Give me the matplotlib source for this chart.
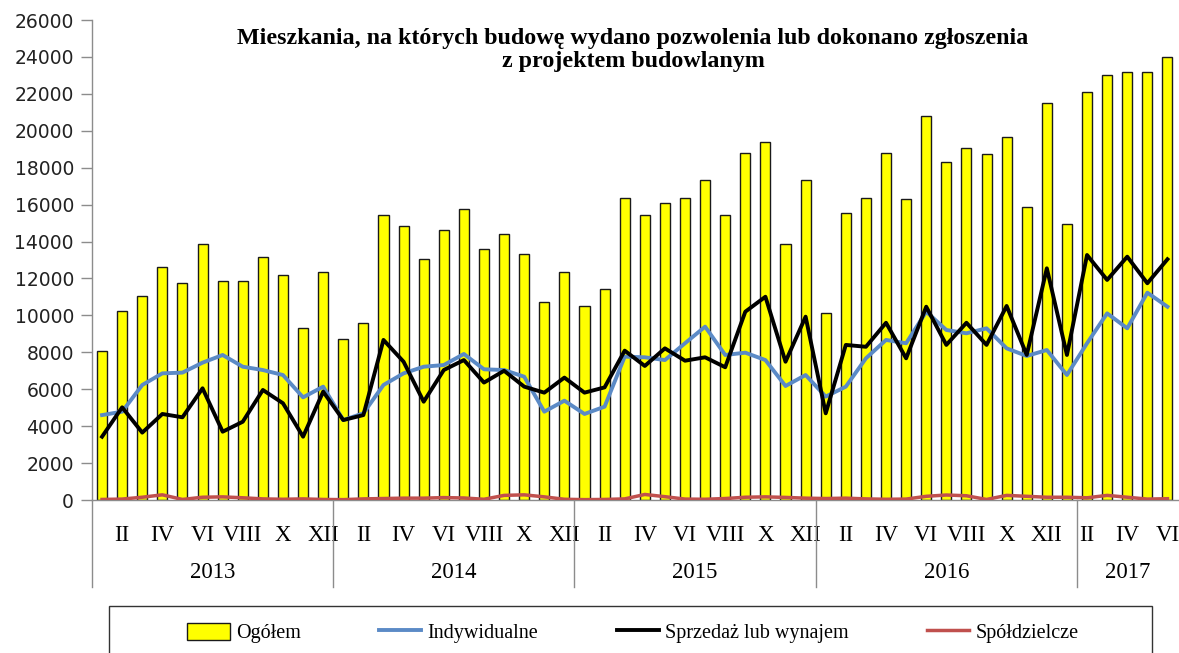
import numpy as np
import matplotlib
matplotlib.use("Agg")
import matplotlib.pyplot as plt
import matplotlib.transforms as mtransforms
from matplotlib.patches import Rectangle

# monthly data 2013 I - 2017 VI
ogolem = [8050, 10240, 11070, 12640, 11740, 13870, 11880, 11880, 13180, 12190, 9300, 12330,
          8700, 9600, 15440, 14840, 13040, 14630, 15750, 13580, 14390, 13330, 10740, 12330,
          10530, 11430, 16340, 15440, 16070, 16340, 17330, 15440, 18780, 19380, 13850, 17330,
          10110, 15530, 16340, 18780, 16290, 20820, 18330, 19090, 18720, 19680, 15890, 21520,
          14930, 22120, 23020, 23200, 23200, 24010]
indywidualne = [4600, 4785, 6230, 6860, 6900, 7440, 7855, 7220, 7040, 6770, 5560, 6140,
                4330, 4695, 6230, 6860, 7220, 7310, 7910, 7080, 7040, 6680, 4785, 5380,
                4660, 5055, 7765, 7730, 7580, 8490, 9390, 7855, 7980, 7580, 6175, 6770,
                5600, 6140, 7675, 8670, 8490, 10200, 9210, 9030, 9300, 8215, 7800, 8125,
                6770, 8490, 10110, 9300, 11230, 10470]
sprzedaz = [3430, 5020, 3650, 4660, 4480, 6050, 3700, 4240, 5960, 5240, 3430, 5870,
            4330, 4600, 8670, 7490, 5325, 7040, 7580, 6360, 7000, 6140, 5815, 6630,
            5815, 6100, 8090, 7260, 8215, 7545, 7730, 7190, 10200, 11010, 7490, 9930,
            4695, 8400, 8300, 9600, 7675, 10470, 8400, 9600, 8400, 10510, 7855, 12550,
            7855, 13270, 11920, 13180, 11740, 13040]
spoldzielcze = [30, 50, 150, 280, 30, 150, 170, 120, 60, 40, 60, 30,
                20, 60, 80, 100, 100, 130, 110, 40, 250, 280, 170, 40,
                20, 30, 60, 300, 180, 50, 40, 80, 150, 170, 140, 100,
                80, 100, 60, 40, 50, 200, 270, 230, 30, 250, 200, 150,
                150, 120, 250, 150, 50, 70]

roman = ["I", "II", "III", "IV", "V", "VI", "VII", "VIII", "IX", "X", "XI", "XII"]
month_labels = roman * 4 + roman[:6]
# year groups as drawn on the category axis (start, end, label)
year_groups = [(0, 12, "2013"), (12, 24, "2014"), (24, 36, "2015"), (36, 49, "2016"), (49, 54, "2017")]

serif = "Liberation Serif"
plt.rcParams['font.family'] = ['DejaVu Sans']

fig = plt.figure(figsize=(11.79, 6.53), dpi=100)
ax = fig.add_axes([92 / 1179, 1 - 500 / 653, 1085.5 / 1179, 480 / 653])

x = np.arange(len(ogolem)) + 0.5
bars = ax.bar(x, ogolem, width=0.5, color='#FFFF00', edgecolor='#1a1a1a', linewidth=1, zorder=2)
l1, = ax.plot(x, indywidualne, color='#5B8AC6', lw=2.8, zorder=3)
l2, = ax.plot(x, sprzedaz, color='black', lw=2.8, zorder=4)
l3, = ax.plot(x, spoldzielcze, color='#C0504D', lw=2.5, zorder=3)

ax.set_xlim(0, len(ogolem))
ax.set_ylim(0, 26000)
ax.set_yticks(np.arange(0, 26001, 2000))
ax.tick_params(axis='y', length=8, width=1, color='#8c8c8c', pad=5, labelsize=13.5, labelcolor='#222222')

odd = [i for i in range(len(month_labels)) if i % 2 == 1]
ax.set_xticks(x[odd])
ax.set_xticklabels([month_labels[i] for i in odd], fontfamily=serif, fontsize=16.5)
ax.tick_params(axis='x', length=0, pad=18)

for side in ['top', 'right']:
    ax.spines[side].set_visible(False)
for side in ['left', 'bottom']:
    ax.spines[side].set_color('#8c8c8c')
    ax.spines[side].set_linewidth(1)

trans = mtransforms.blended_transform_factory(ax.transData, ax.transAxes)
for start, end, year in year_groups:
    ax.plot([start, start], [0, -0.181], transform=trans, color='#8c8c8c', lw=1, clip_on=False)
    ax.text((start + end) / 2, -0.152, year, transform=trans, ha='center', va='center',
            fontfamily=serif, fontsize=16.5)

fig.text(633 / 1179, 1 - 50 / 653,
         "Mieszkania, na których budowę wydano pozwolenia lub dokonano zgłoszenia\nz projektem budowlanym",
         ha='center', va='center', fontfamily=serif, fontweight='bold', fontsize=17.3, linespacing=1.12)

# legend box
fig.patches.append(Rectangle((109 / 1179, -0.02), (1152 - 109) / 1179, 0.02 + 47 / 653,
                             transform=fig.transFigure, fill=False, edgecolor='#333333', lw=1))
fig.legend([bars, l1, l2, l3], ['Ogółem', 'Indywidualne', 'Sprzedaż lub wynajem', 'Spółdzielcze'],
           loc='center', bbox_to_anchor=(633 / 1179, 1 - 633 / 653), ncol=4,
           frameon=False, prop={'family': serif, 'size': 14.5}, handlelength=2.1, handleheight=0.9,
           handletextpad=0.3, columnspacing=3.9)

fig.savefig("out.png", dpi=100)
